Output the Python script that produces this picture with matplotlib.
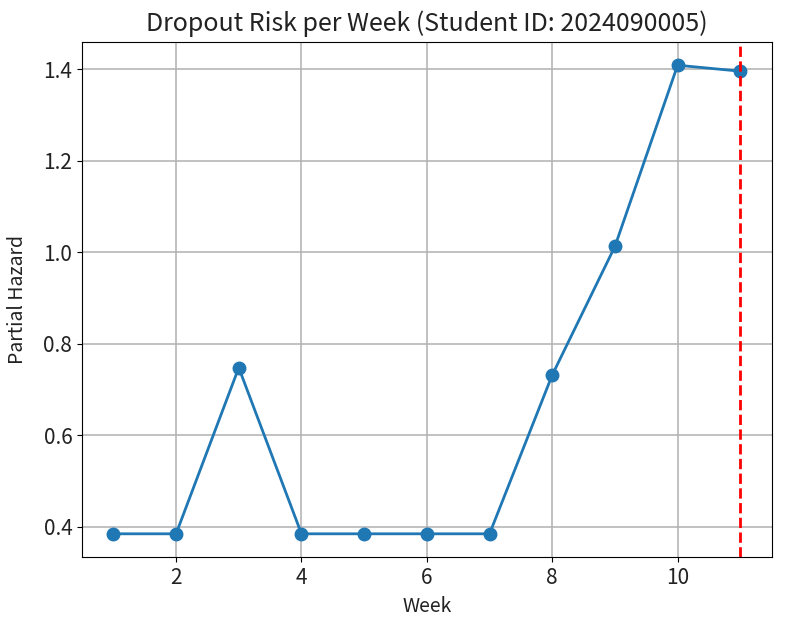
import matplotlib
matplotlib.use("Agg")
import matplotlib.pyplot as plt

plt.rcParams['font.family'] = ['Noto Sans CJK KR', 'DejaVu Sans']

weeks = [1, 2, 3, 4, 5, 6, 7, 8, 9, 10, 11]
hazard = [0.385, 0.385, 0.748, 0.385, 0.385, 0.385, 0.385, 0.732, 1.013, 1.409, 1.396]
current_week = 11
title = "Dropout Risk per Week (Student ID: 2024090005)"

fig = plt.figure(figsize=(7.85, 6.24), dpi=100)
ax = fig.add_axes([0.1045, 0.107, 0.8785, 0.826])
ax.plot(weeks, hazard, marker='o', color='#1f77b4', linewidth=2, markersize=9)
ax.axvline(current_week, color='red', linestyle='--', linewidth=2)
ax.grid(True, color='#b0b0b0', linewidth=1.1)
ax.set_title(title, fontsize=18, pad=8, color='#222222')
ax.set_xlabel("Week", fontsize=14, labelpad=5, color='#222222')
ax.set_ylabel("Partial Hazard", fontsize=14, color='#222222')
ax.yaxis.set_label_coords(-0.079, 0.5)
ax.tick_params(labelsize=15, labelcolor='#222222')
fig.savefig("out.png", dpi=100)
